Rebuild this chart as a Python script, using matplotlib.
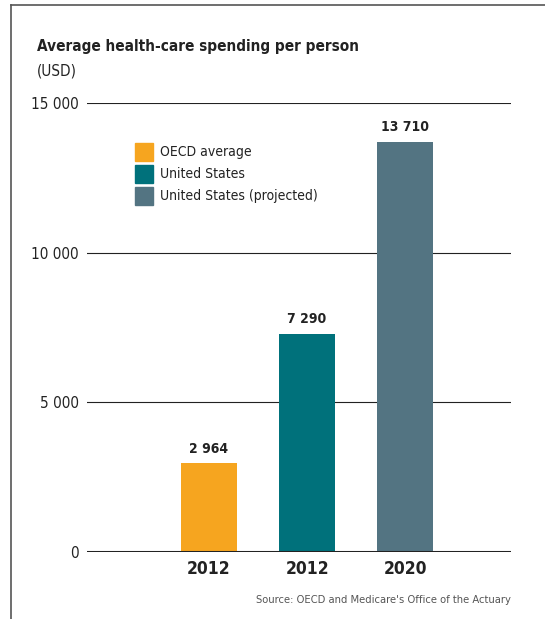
import matplotlib
matplotlib.use("Agg")
import matplotlib.pyplot as plt
from matplotlib.patches import Rectangle
from matplotlib.lines import Line2D

categories = ["2012", "2012", "2020"]
series_names = ["OECD average", "United States", "United States (projected)"]
values = [2964, 7290, 13710]
value_labels = ["2 964", "7 290", "13 710"]
yticks = [0, 5000, 10000, 15000]
ytick_labels = ["0", "5 000", "10 000", "15 000"]
colors = ["#F6A51F", "#00717B", "#537482"]

plt.rcParams['font.family'] = ['DejaVu Sans']
plt.rcParams['font.stretch'] = 'condensed'

W, H = 545, 619
fig = plt.figure(figsize=(W/100, H/100), dpi=100)

def fx(px): return px / W
def fy(py): return 1 - py / H

fig.add_artist(Line2D([fx(11), fx(11)], [fy(5), 0], color="#555555", lw=1.2, transform=fig.transFigure))
fig.add_artist(Line2D([fx(11), 1], [fy(5), fy(5)], color="#555555", lw=1.2, transform=fig.transFigure))

ax = fig.add_axes([fx(87), fy(552), fx(511) - fx(87), (552 - 103) / H])
x = [0, 1, 2]
ax.bar(x, values, width=0.571, color=colors, zorder=3)
ax.set_xlim(-1.245, 3.08)
ax.set_ylim(0, 15000)
for v in yticks[1:]:
    ax.axhline(v, color="#222222", lw=0.8, zorder=1)
ax.axhline(0, color="#222222", lw=2.2, zorder=4)
for s in ax.spines.values():
    s.set_visible(False)
ax.set_yticks(yticks)
ax.set_yticklabels(ytick_labels, fontsize=11, color="#222222")
ax.tick_params(axis='y', length=0, pad=6)
ax.set_xticks(x)
ax.set_xticklabels(categories, fontsize=12.5, fontweight='bold', color="#222222")
ax.tick_params(axis='x', length=0, pad=6)
for xi, v, lab in zip(x, values, value_labels):
    ax.text(xi, v + 250, lab, ha='center', va='bottom', fontsize=10, fontweight='bold', color="#222222")

for i, (name, c) in enumerate(zip(series_names, colors)):
    top = 143 + i * 22
    fig.add_artist(Rectangle((fx(135), fy(top + 18)), fx(18), 18 / H, color=c, transform=fig.transFigure))
    fig.text(fx(160), fy(top + 9), name, fontsize=10, va='center', ha='left', color="#222222")

fig.text(fx(37), fy(47), "Average health-care spending per person", fontsize=11, fontweight='bold', va='center', ha='left', color="#222222")
fig.text(fx(37), fy(71), "(USD)", fontsize=11, va='center', ha='left', color="#222222")
fig.text(fx(511), fy(600), "Source: OECD and Medicare's Office of the Actuary", fontsize=8, va='center', ha='right', color="#555555")

fig.savefig("out.png", dpi=100)
